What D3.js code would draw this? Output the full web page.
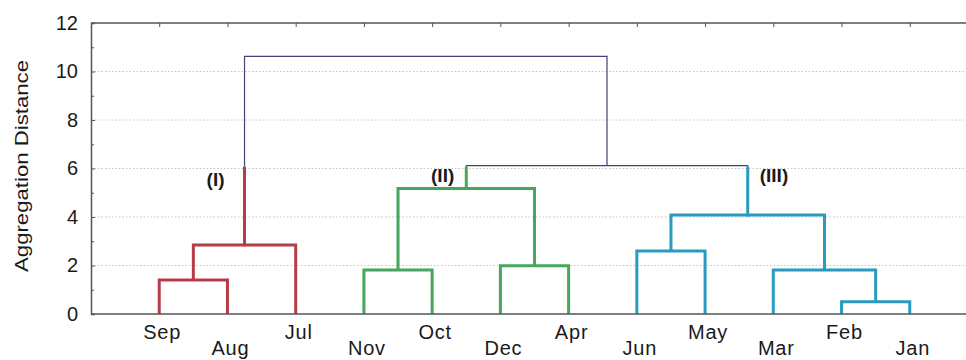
<!DOCTYPE html>
<html>
<head>
<meta charset="utf-8">
<script src="https://cdn.jsdelivr.net/npm/d3@7"></script>
<style>
  html, body { margin: 0; padding: 0; background: #ffffff; }
  svg { display: block; }
  text { font-family: "Liberation Sans", Arial, sans-serif; fill: #1a1a1a; }
</style>
</head>
<body>
<svg id="chart" width="966" height="360"></svg>
<script>
// Leaf order along the horizontal axis
const leaves = ["Sep", "Aug", "Jul", "Nov", "Oct", "Dec", "Apr", "Jun", "May", "Mar", "Feb", "Jan"];

// Agglomeration steps: node n(k+1) joins mergeLeft[k] and mergeRight[k] at mergeHeight[k]
const mergeLeft   = ["Sep", "n1",  "Nov", "Dec", "n3", "Jun", "Feb", "Mar", "n6", "n5", "n2"];
const mergeRight  = ["Aug", "Jul", "Oct", "Apr", "n4", "May", "Jan", "n7",  "n8", "n9", "n10"];
const mergeHeight = [1.40, 2.85, 1.81, 1.99, 5.18, 2.60, 0.51, 1.81, 4.08, 6.12, 10.62];

// Clusters below the cut height, named and coloured left to right
const colorCut = 6.08;
const clusterNames  = ["(I)", "(II)", "(III)"];
const clusterColors = ["#b53d4a", "#47a65b", "#2b9abf"];
const linkColor = "#41417e";

const yTicks = [0, 2, 4, 6, 8, 10, 12];
const yMinorTicks = [1, 3, 5, 7, 9, 11];
const yTitle = "Aggregation Distance";

const svg = d3.select("#chart");
const margin = { left: 91, top: 23, bottom: 46 };
const H = 360;
const plotW = 887;                       // frame runs past the right edge of the view
const plotH = H - margin.top - margin.bottom;

const x = d3.scalePoint().domain(leaves).range([0, plotW]).padding(1);
const y = d3.scaleLinear().domain([0, 12]).range([plotH, 0]);

const g = svg.append("g").attr("transform", `translate(${margin.left},${margin.top})`);

// dotted horizontal grid
g.append("g").selectAll("line")
  .data(yTicks.filter(v => v > 0 && v < 12))
  .join("line")
  .attr("x1", 0).attr("x2", plotW)
  .attr("y1", d => y(d)).attr("y2", d => y(d))
  .attr("stroke", "#c4c4c4")
  .attr("stroke-width", 1)
  .attr("stroke-dasharray", "1.5,2");

// build tree nodes
const nodes = new Map();
leaves.forEach(n => nodes.set(n, { name: n, x: x(n), h: 0, children: null }));
mergeHeight.forEach((h, k) => {
  const l = nodes.get(mergeLeft[k]), r = nodes.get(mergeRight[k]);
  const node = { name: "n" + (k + 1), x: (l.x + r.x) / 2, h, children: [l, r] };
  l.parent = node; r.parent = node;
  nodes.set(node.name, node);
});

// cluster roots: nodes under the cut whose parent lies above it
const roots = [...nodes.values()]
  .filter(n => n.h < colorCut && n.parent && n.parent.h >= colorCut)
  .sort((a, b) => a.x - b.x);
function paint(n, c) { n.color = c; if (n.children) n.children.forEach(ch => paint(ch, c)); }
roots.forEach((r, i) => paint(r, clusterColors[i]));

const line = d3.line().x(d => d[0]).y(d => d[1]);

// links inside the clusters
const inner = [...nodes.values()].filter(n => n.children && n.color);
g.append("g").selectAll("path")
  .data(inner)
  .join("path")
  .attr("d", n => {
    const [l, r] = n.children;
    return line([[l.x, y(l.h)], [l.x, y(n.h)], [r.x, y(n.h)], [r.x, y(r.h)]]);
  })
  .attr("fill", "none")
  .attr("stroke", n => n.color)
  .attr("stroke-width", 3)
  .attr("stroke-linejoin", "miter");

// links above the cut
const upper = [...nodes.values()].filter(n => n.children && !n.color);
g.append("g").selectAll("path")
  .data(upper)
  .join("path")
  .attr("d", n => {
    const [l, r] = n.children;
    const lb = l.color ? Math.min(colorCut, n.h) : l.h;
    const rb = r.color ? Math.min(colorCut, n.h) : r.h;
    return line([[l.x, y(lb)], [l.x, y(n.h)], [r.x, y(n.h)], [r.x, y(rb)]]);
  })
  .attr("fill", "none")
  .attr("stroke", linkColor)
  .attr("stroke-width", 1.2);

// coloured stems rising from each cluster to the cut
g.append("g").selectAll("line")
  .data(roots)
  .join("line")
  .attr("x1", r => r.x).attr("x2", r => r.x)
  .attr("y1", r => y(r.h) + 1.5)
  .attr("y2", r => y(Math.min(colorCut, r.parent.h)))
  .attr("stroke", r => r.color)
  .attr("stroke-width", 3);

// cluster names beside the stems
const labelPlace = [
  { dx: -20, v: 5.28, anchor: "end" },
  { dx: -12, v: 5.44, anchor: "end" },
  { dx: 12,  v: 5.44, anchor: "start" }
];
g.append("g").selectAll("text")
  .data(roots)
  .join("text")
  .attr("x", (r, i) => r.x + labelPlace[i].dx)
  .attr("y", (r, i) => y(labelPlace[i].v))
  .attr("text-anchor", (r, i) => labelPlace[i].anchor)
  .attr("font-weight", "bold")
  .attr("font-size", 19)
  .text((r, i) => clusterNames[i]);

// frame: top and bottom lines
const frameColor = "#555555";
g.append("line").attr("x1", 0).attr("x2", plotW).attr("y1", 0).attr("y2", 0)
  .attr("stroke", frameColor).attr("stroke-width", 1.5);
g.append("line").attr("x1", 0).attr("x2", plotW).attr("y1", plotH).attr("y2", plotH)
  .attr("stroke", frameColor).attr("stroke-width", 1.5);

// left axis with inward ticks
const yAxis = g.append("g")
  .call(d3.axisLeft(y).tickValues(yTicks).tickSize(-4).tickPadding(13).tickFormat(d3.format("d")));
yAxis.select(".domain").attr("stroke", frameColor).attr("stroke-width", 1.5);
yAxis.selectAll(".tick line").attr("stroke", frameColor);
yAxis.selectAll(".tick text").attr("font-size", 20).attr("fill", "#1a1a1a")
  .attr("font-family", "'Liberation Sans', Arial, sans-serif");
const yMinor = g.append("g")
  .call(d3.axisLeft(y).tickValues(yMinorTicks).tickSize(-3).tickFormat(""));
yMinor.select(".domain").remove();
yMinor.selectAll(".tick line").attr("stroke", frameColor);

// top axis with inward ticks at the leaves
const topAxis = g.append("g")
  .call(d3.axisTop(x).tickSize(-4).tickFormat(""));
topAxis.select(".domain").remove();
topAxis.selectAll(".tick line").attr("stroke", frameColor);

// leaf labels in two staggered rows
g.append("g").selectAll("text")
  .data(leaves)
  .join("text")
  .attr("x", d => x(d) + 3)
  .attr("y", (d, i) => plotH + (i % 2 === 0 ? 25 : 41))
  .attr("text-anchor", "middle")
  .attr("font-size", 20)
  .attr("letter-spacing", 0.8)
  .text(d => d);

// vertical axis title
svg.append("text")
  .attr("transform", `translate(28,166) rotate(-90)`)
  .attr("text-anchor", "middle")
  .attr("font-size", 18)
  .attr("textLength", 212)
  .attr("lengthAdjust", "spacingAndGlyphs")
  .text(yTitle);
</script>
</body>
</html>
